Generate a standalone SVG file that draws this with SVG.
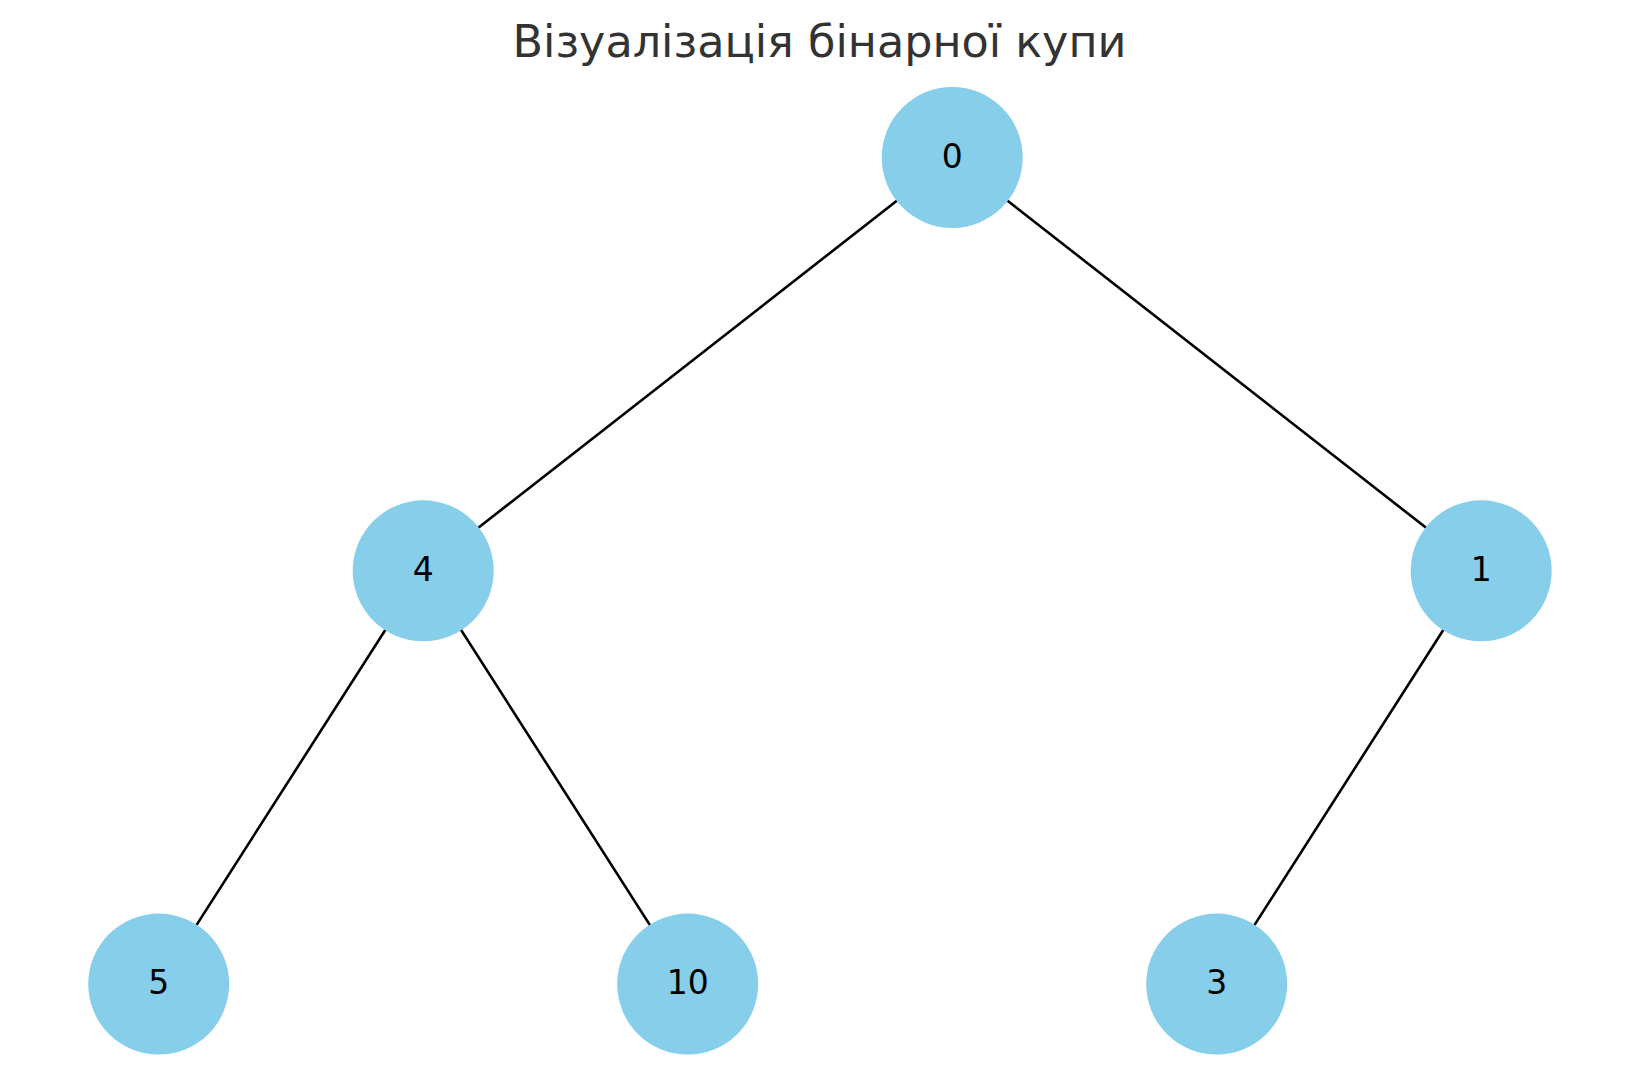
<svg xmlns="http://www.w3.org/2000/svg" width="1639" height="1091" viewBox="0 0 1639 1091">
<style>
.node{fill:#87ceeb}
.lbl{font-family:"DejaVu Sans",sans-serif;font-size:33px;fill:#000;text-anchor:middle}
.edge{stroke:#000;stroke-width:2.6;fill:none}
.title{font-family:"DejaVu Sans",sans-serif;font-size:44.5px;fill:#333;text-anchor:middle}
</style>
<rect width="1639" height="1091" fill="#fff"/>
<text class="title" x="819.5" y="57">Візуалізація бінарної купи</text>
<g id="edges">
<line class="edge" x1="952.2" y1="157.5" x2="423.2" y2="570.8"/>
<line class="edge" x1="952.2" y1="157.5" x2="1481.2" y2="570.8"/>
<line class="edge" x1="423.2" y1="570.8" x2="158.7" y2="984.1"/>
<line class="edge" x1="423.2" y1="570.8" x2="687.7" y2="984.1"/>
<line class="edge" x1="1481.2" y1="570.8" x2="1216.7" y2="984.1"/>
</g>
<g id="node-0"><circle class="node" cx="952.2" cy="157.5" r="70.5"/><text class="lbl" x="952.2" y="167.5">0</text></g>
<g id="node-4"><circle class="node" cx="423.2" cy="570.8" r="70.5"/><text class="lbl" x="423.2" y="580.8">4</text></g>
<g id="node-1"><circle class="node" cx="1481.2" cy="570.8" r="70.5"/><text class="lbl" x="1481.2" y="580.8">1</text></g>
<g id="node-5"><circle class="node" cx="158.7" cy="984.1" r="70.5"/><text class="lbl" x="158.7" y="994.1">5</text></g>
<g id="node-10"><circle class="node" cx="687.7" cy="984.1" r="70.5"/><text class="lbl" x="687.7" y="994.1">10</text></g>
<g id="node-3"><circle class="node" cx="1216.7" cy="984.1" r="70.5"/><text class="lbl" x="1216.7" y="994.1">3</text></g>
</svg>
